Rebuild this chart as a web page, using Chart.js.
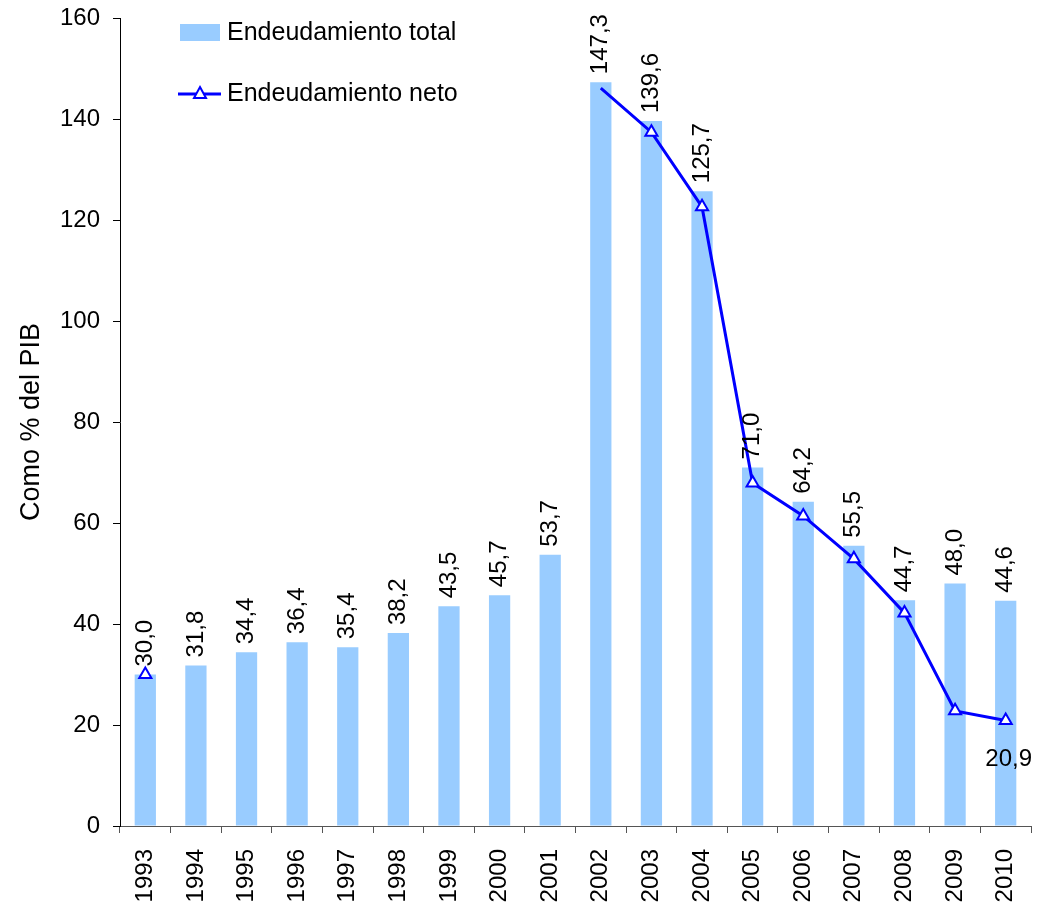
<!DOCTYPE html>
<html>
<head>
<meta charset="utf-8">
<script src="https://cdn.jsdelivr.net/npm/chart.js@4.4.0/dist/chart.umd.min.js"></script>
<style>
  html, body { margin: 0; padding: 0; background: #fff; }
  #wrap { width: 1046px; height: 904px; }
</style>
</head>
<body>
<div id="wrap"><canvas id="deuda-chart"></canvas></div>
<script>
// Endeudamiento como % del PIB
var years = ["1993","1994","1995","1996","1997","1998","1999","2000","2001",
             "2002","2003","2004","2005","2006","2007","2008","2009","2010"];
var totalDebt = [30.0, 31.8, 34.4, 36.4, 35.4, 38.2, 43.5, 45.7, 53.7,
                 147.3, 139.6, 125.7, 71.0, 64.2, 55.5, 44.7, 48.0, 44.6];
var netDebt = [30.0, null, null, null, null, null, null, null, null,
               146.1, 137.4, 122.6, 67.9, 61.4, 52.9, 42.2, 22.8, 20.9];
var yTicks = [0, 20, 40, 60, 80, 100, 120, 140, 160];

var FONT = "'Liberation Sans', Arial, sans-serif";

function fmt(v) {
    return v.toFixed(1).replace(".", ",");
}

// labels above bars (rotated) + last point of the line + legend
var labelPlugin = {
    id: "labelPlugin",
    afterDatasetsDraw: function(chart) {
        var ctx = chart.ctx;
        ctx.save();
        ctx.fillStyle = "#000";
        ctx.font = "24px " + FONT;

        var bars = chart.getDatasetMeta(0).data;
        for (var i = 0; i < bars.length; i++) {
            ctx.save();
            ctx.translate(bars[i].x, bars[i].y - 8);
            ctx.rotate(-Math.PI / 2);
            ctx.textAlign = "left";
            ctx.textBaseline = "middle";
            ctx.fillText(fmt(totalDebt[i]), 0, 0);
            ctx.restore();
        }

        var pts = chart.getDatasetMeta(1).data;
        var last = pts[pts.length - 1];
        ctx.textAlign = "center";
        ctx.textBaseline = "middle";
        ctx.fillText(fmt(netDebt[netDebt.length - 1]), last.x + 3, last.y + 39);

        // legend
        var lx = 178, ly1 = 33, ly2 = 94;
        ctx.fillStyle = "#99CCFF";
        ctx.fillRect(lx + 2, ly1 - 9, 40, 17);
        ctx.strokeStyle = "#0000FF";
        ctx.lineWidth = 3;
        ctx.beginPath();
        ctx.moveTo(lx, ly2);
        ctx.lineTo(lx + 43, ly2);
        ctx.stroke();
        ctx.fillStyle = "#fff";
        ctx.lineWidth = 2;
        ctx.beginPath();
        ctx.moveTo(lx + 22, ly2 - 7);
        ctx.lineTo(lx + 28, ly2 + 4);
        ctx.lineTo(lx + 16, ly2 + 4);
        ctx.closePath();
        ctx.fill();
        ctx.stroke();
        ctx.fillStyle = "#000";
        ctx.textAlign = "left";
        ctx.font = "25px " + FONT;
        ctx.fillText("Endeudamiento total", lx + 49, ly1);
        ctx.fillText("Endeudamiento neto", lx + 49, ly2);
        ctx.restore();
    }
};

var ctx = document.getElementById("deuda-chart");

var chartData = {
    labels: years,
    datasets: [{
        type: "bar",
        label: "Endeudamiento total",
        data: totalDebt,
        order: 1,
        backgroundColor: "#99CCFF",
        categoryPercentage: 1.0,
        barPercentage: 0.42
    }, {
        type: "line",
        label: "Endeudamiento neto",
        data: netDebt,
        order: 0,
        borderColor: "#0000FF",
        borderWidth: 3,
        fill: false,
        tension: 0,
        spanGaps: false,
        pointStyle: "triangle",
        pointRadius: years.map(function(y) { return y === "2002" ? 0 : 7; }),
        pointBorderColor: "#0000FF",
        pointBackgroundColor: "#FFF",
        pointBorderWidth: 2
    }]
};

var config = {
    type: "bar",
    data: chartData,
    options: {
        responsive: true,
        maintainAspectRatio: false,
        animation: false,
        layout: { padding: { top: 18, right: 15, bottom: 0, left: 6 } },
        plugins: {
            legend: { display: false },
            tooltip: { enabled: false }
        },
        scales: {
            x: {
                offset: true,
                afterFit: function(axis) {
                    axis.paddingLeft = 0;
                    axis.paddingRight = 0;
                    axis.height = 78;
                },
                grid: { display: true, drawOnChartArea: false, drawTicks: true, tickLength: 7, color: "#555", offset: true },
                border: { color: "#555", width: 1 },
                ticks: { color: "#000", font: { size: 24, family: FONT }, minRotation: 90, maxRotation: 90, padding: 16 }
            },
            y: {
                min: 0,
                max: 160,
                afterBuildTicks: function(axis) {
                    axis.ticks = yTicks.map(function(v) { return { value: v }; });
                },
                afterFit: function(axis) {
                    axis.paddingTop = 0;
                    axis.paddingBottom = 0;
                    axis.width = 114;
                },
                grid: { display: true, drawOnChartArea: false, drawTicks: true, tickLength: 7, color: "#000" },
                border: { color: "#000", width: 1 },
                ticks: { color: "#000", font: { size: 24, family: FONT }, padding: 13 },
                title: { display: true, text: "Como % del PIB", color: "#000", font: { size: 27, family: FONT }, padding: { top: 9, bottom: 1 } }
            }
        }
    },
    plugins: [labelPlugin]
};

var deudaChart = new Chart(ctx, config);
</script>
</body>
</html>
